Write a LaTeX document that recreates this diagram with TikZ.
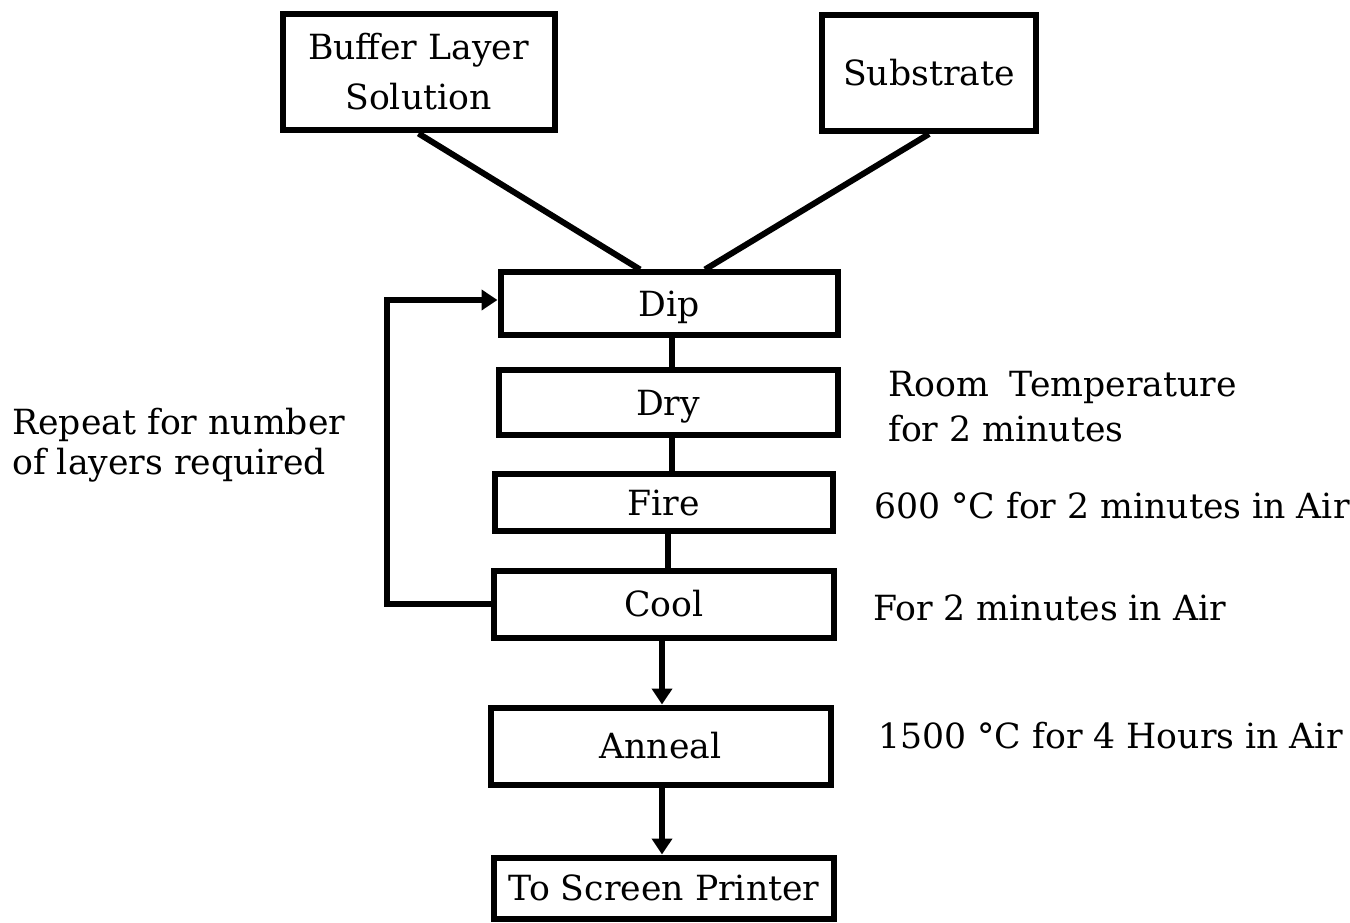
\documentclass[tikz,border=0pt]{standalone}
\usepackage{fontspec}
\setmainfont{DejaVu Serif}
\usetikzlibrary{arrows.meta}
\tikzset{
  stepbox/.style={draw, line width=4.5pt, inner sep=0pt, text height=19pt, text depth=0pt, align=center, font=\fontsize{26}{37.5}\selectfont},
  conn/.style={line width=4.5pt},
  arr/.style={line width=4.5pt, -{Triangle[length=12pt,width=15pt]}},
  lbl/.style={anchor=base west, inner sep=0pt, font=\fontsize{26}{36}\selectfont, align=left}
}
\begin{document}
\begin{tikzpicture}[x=0.75pt,y=-0.75pt]
\useasboundingbox (0,0) rectangle (1350,923);
\node[stepbox, minimum width=204pt, minimum height=87pt, text height=56.25pt] (buf) at (418.5,72.5) {Buffer Layer\\Solution};
\node[stepbox, minimum width=160pt, minimum height=87pt] (sub) at (929,73) {Substrate};
\node[stepbox, minimum width=252.75pt, minimum height=47.25pt] (dip) at (669,304) {Dip};
\node[stepbox, minimum width=254.25pt, minimum height=48.75pt] (dry) at (668,403) {Dry};
\node[stepbox, minimum width=253.5pt, minimum height=42pt] (fire) at (663.5,502.5) {Fire};
\node[stepbox, minimum width=255pt, minimum height=50.25pt] (cool) at (664,604) {Cool};
\node[stepbox, minimum width=255pt, minimum height=57.75pt] (anneal) at (660.5,746) {Anneal};
\node[stepbox, minimum width=255pt, minimum height=45.75pt] (printer) at (664,888) {To Screen Printer};

\node[lbl] (rt1) at (888,397) {Room\hspace{0.6em}Temperature};
\node[lbl] (rt2) at (888,442) {for 2 minutes};
\node[lbl] (firel) at (874,518) {600 °C for 2 minutes in Air};
\node[lbl] (cooll) at (873,620) {For 2 minutes in Air};
\node[lbl] (annl) at (878,748) {1500 °C for 4 Hours in Air};
\node[lbl] (rep1) at (12,435) {Repeat for number};
\node[lbl] (rep2) at (12,475) {of layers required};

\draw[conn] (buf.south) -- ([xshift=-21.75pt]dip.north);
\draw[conn] (sub.south) -- ([xshift=27pt]dip.north);

\coordinate (v1) at (672,0);
\coordinate (v2) at (668,0);
\coordinate (v3) at (662,0);
\draw[conn] (dip.south -| v1) -- (dry.north -| v1);
\draw[conn] (dry.south -| v1) -- (fire.north -| v1);
\draw[conn] (fire.south -| v2) -- (cool.north -| v2);
\draw[arr] (cool.south -| v3) -- (anneal.north -| v3);
\draw[arr] (anneal.south -| v3) -- (printer.north -| v3);

\coordinate (fb) at (387,300);
\draw[arr] (cool.west) -| (fb) -- (fb -| dip.west);
\end{tikzpicture}
\end{document}
